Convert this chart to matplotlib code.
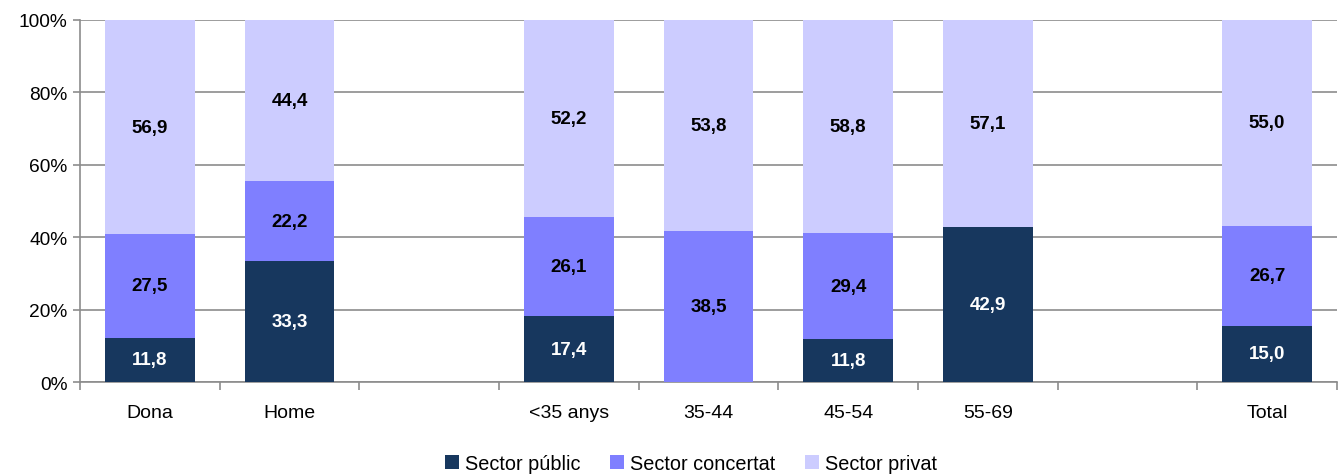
import matplotlib
matplotlib.use("Agg")
from matplotlib import pyplot as plt
import numpy as np

plt.rcParams['font.family'] = ['Liberation Sans', 'DejaVu Sans']

categories = ['Dona', 'Home', '', '<35 anys', '35-44', '45-54', '55-69', '', 'Total']
public = [11.8, 33.3, 0, 17.4, 0.0, 11.8, 42.9, 0, 15.0]
concertat = [27.5, 22.2, 0, 26.1, 38.5, 29.4, 0.0, 0, 26.7]
privat = [56.9, 44.4, 0, 52.2, 53.8, 58.8, 57.1, 0, 55.0]
empty = [2, 7]

series = [('Sector públic', public, '#17375e', 'white'),
          ('Sector concertat', concertat, '#7f7fff', 'black'),
          ('Sector privat', privat, '#ccccff', 'black')]

fig = plt.figure(figsize=(13.41, 4.77), dpi=100)
ax = fig.add_axes([0.0597, 0.197, 0.9373, 0.759])

x = np.arange(len(categories))
totals = np.array(public) + np.array(concertat) + np.array(privat)
totals[totals == 0] = 1
bottom = np.zeros(len(categories))
for name, vals, color, tcolor in series:
    vals = np.array(vals, dtype=float)
    h = vals / totals * 100  # 100% stacked
    ax.bar(x, h, 0.64, bottom=bottom, color=color, label=name, zorder=3)
    for i, v in enumerate(vals):
        if i in empty or v == 0:
            continue
        ax.text(x[i], bottom[i] + h[i] / 2, f'{v:.1f}'.replace('.', ','),
                ha='center', va='center', color=tcolor, fontsize=13.5,
                fontweight='bold', zorder=4)
    bottom += h

ax.set_xlim(-0.5, len(categories) - 0.5)
ax.set_ylim(0, 100)
ax.set_yticks(range(0, 101, 20))
ax.set_yticklabels([f'{v}%' for v in range(0, 101, 20)], fontsize=13.8)
ax.yaxis.grid(True, color='#8c8c8c', linewidth=1.2, zorder=0)

ax.set_xticks(x)
ax.set_xticklabels(categories, fontsize=14)
ax.tick_params(axis='x', length=0, pad=16)
ax.set_xticks(np.arange(-0.5, len(categories)), minor=True)
ax.tick_params(axis='x', which='minor', length=6, color='#8c8c8c', width=1.2)
ax.tick_params(axis='y', length=5, color='#8c8c8c', width=1.2, pad=4)

for s in ['top', 'right']:
    ax.spines[s].set_visible(False)
for s in ['left', 'bottom']:
    ax.spines[s].set_color('#8c8c8c')
    ax.spines[s].set_linewidth(1.2)

fig.legend(loc='center', bbox_to_anchor=(0.515, 0.026), ncol=3, frameon=False,
           fontsize=14.3, handlelength=0.7, handleheight=0.7, handletextpad=0.3,
           columnspacing=1.5, borderpad=0)

fig.savefig('out.png', dpi=100)
